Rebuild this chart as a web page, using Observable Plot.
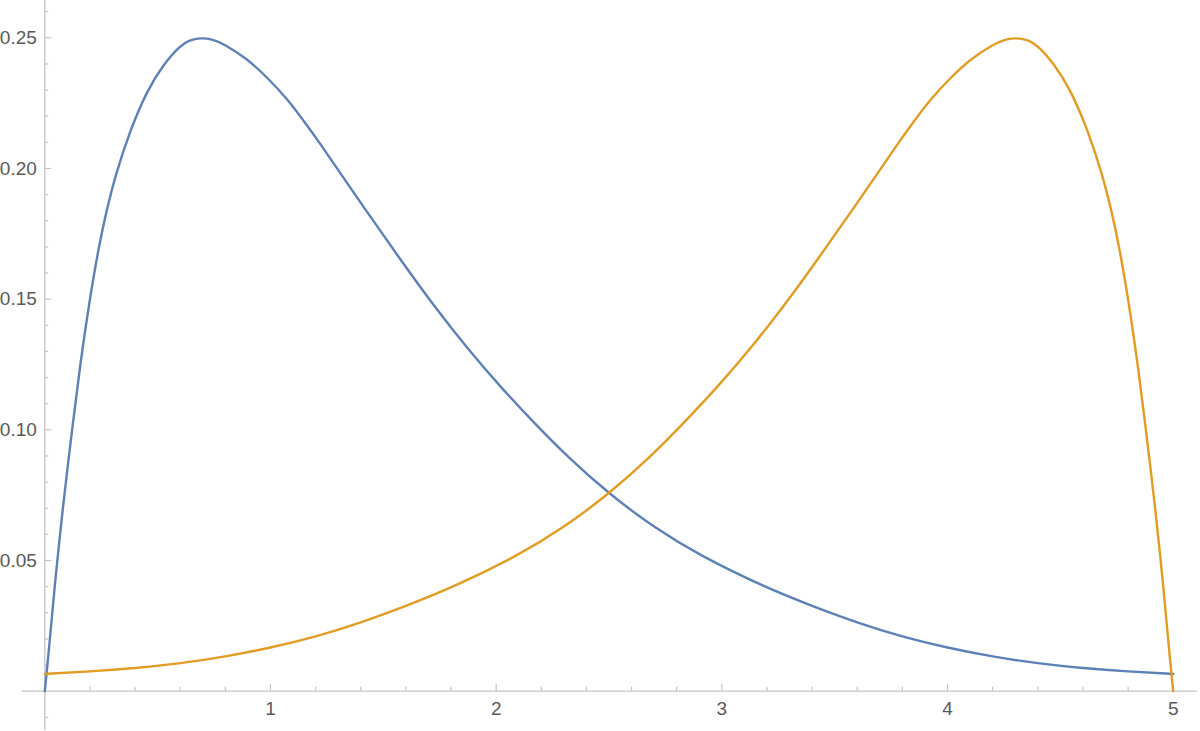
<!DOCTYPE html>
<html>
<head>
<meta charset="utf-8">
<script src="https://cdn.jsdelivr.net/npm/d3@7"></script>
<script src="https://cdn.jsdelivr.net/npm/@observablehq/plot@0.6"></script>
<style>
  html, body { margin: 0; padding: 0; background: #ffffff; }
  #chart svg { display: block; }
</style>
</head>
<body>
<div id="chart"></div>
<script>
// ---- data ----
const blueX = [0, 0.015, 0.03, 0.045, 0.06, 0.08, 0.10, 0.121, 0.155, 0.199, 0.239, 0.275, 0.313, 0.38, 0.453, 0.527, 0.601, 0.64, 0.69, 0.74, 0.793, 0.896, 0.985, 1.074, 1.162, 1.221, 1.281, 1.429, 1.576, 1.724, 1.872, 2.02, 2.167, 2.315, 2.5, 2.7, 2.9, 3.2, 3.4, 3.6, 3.8, 4.0, 4.2, 4.4, 4.6, 4.8, 5.0];
const blueY = [0, 0.013, 0.027, 0.041, 0.054, 0.070, 0.085, 0.100, 0.124, 0.150, 0.170, 0.1845, 0.1975, 0.2150, 0.2298, 0.240, 0.2471, 0.2491, 0.250, 0.2495, 0.2477, 0.2420, 0.2349, 0.2267, 0.2165, 0.2094, 0.2018, 0.1832, 0.1651, 0.1474, 0.1312, 0.1163, 0.1028, 0.0898, 0.0755, 0.0626, 0.0520, 0.0394, 0.0326, 0.0262, 0.0208, 0.0166, 0.0132, 0.0106, 0.0088, 0.0075, 0.0066];

const orangeX = [0, 0.2, 0.4, 0.6, 0.8, 1.0, 1.2, 1.4, 1.6, 1.8, 2.1, 2.3, 2.5, 2.685, 2.833, 2.98, 3.128, 3.276, 3.424, 3.571, 3.719, 3.779, 3.838, 3.926, 4.015, 4.104, 4.207, 4.26, 4.31, 4.36, 4.399, 4.473, 4.547, 4.62, 4.687, 4.725, 4.761, 4.801, 4.845, 4.879, 4.90, 4.92, 4.94, 4.955, 4.97, 4.985, 5.0];
const orangeY = [0.0066, 0.0075, 0.0088, 0.0106, 0.0132, 0.0166, 0.0208, 0.0262, 0.0326, 0.0394, 0.0520, 0.0626, 0.0755, 0.0898, 0.1028, 0.1163, 0.1312, 0.1474, 0.1651, 0.1832, 0.2018, 0.2094, 0.2165, 0.2267, 0.2349, 0.2420, 0.2477, 0.2495, 0.250, 0.2491, 0.2471, 0.240, 0.2298, 0.2150, 0.1975, 0.1845, 0.170, 0.150, 0.124, 0.100, 0.085, 0.070, 0.054, 0.041, 0.027, 0.013, 0];

const xMajorTicks = [1, 2, 3, 4, 5];
const xMinorTicks = [0.2, 0.4, 0.6, 0.8, 1.2, 1.4, 1.6, 1.8, 2.2, 2.4, 2.6, 2.8, 3.2, 3.4, 3.6, 3.8, 4.2, 4.4, 4.6, 4.8];
const yMajorTicks = [0.05, 0.10, 0.15, 0.20, 0.25];
const yMinorTicks = [-0.01, 0.01, 0.02, 0.03, 0.04, 0.06, 0.07, 0.08, 0.09, 0.11, 0.12, 0.13, 0.14, 0.16, 0.17, 0.18, 0.19, 0.21, 0.22, 0.23, 0.24, 0.26];

// axis line extents (data units)
const xAxisExtent = [-0.099, 5.107];
const yAxisExtent = [-0.015, 0.2643];

// ---- build ----
const blue = blueX.map((x, i) => ({x, y: blueY[i]}));
const orange = orangeX.map((x, i) => ({x, y: orangeY[i]}));

const W = 1200, H = 731;
const mL = 44.3, mR = 27.3, mT = 37.3, mB = 40.3;
const pxPerX = (W - mL - mR) / 5;
const pxPerY = (H - mT - mB) / 0.25;
const majorLen = 7, minorLen = 4;
const axisColor = "#c4c4c4";
const tickColor = "#c4c4c4";

const plot = Plot.plot({
  width: W,
  height: H,
  marginLeft: mL,
  marginRight: mR,
  marginTop: mT,
  marginBottom: mB,
  x: {domain: [0, 5], label: null},
  y: {domain: [0, 0.25], label: null},
  style: {
    fontFamily: "'Liberation Sans', Arial, sans-serif",
    fontSize: "19px",
    color: "#5a5a5a",
    background: "#ffffff"
  },
  marks: [
    Plot.ruleY([0], {x1: xAxisExtent[0], x2: xAxisExtent[1], stroke: axisColor, strokeWidth: 1.3}),
    Plot.ruleX([0], {y1: yAxisExtent[0], y2: yAxisExtent[1], stroke: axisColor, strokeWidth: 1.3}),
    Plot.ruleY(yMajorTicks, {y: d => d, x1: 0, x2: majorLen / pxPerX, stroke: tickColor, strokeWidth: 1.2}),
    Plot.ruleY(yMinorTicks, {y: d => d, x1: 0, x2: minorLen / pxPerX, stroke: tickColor, strokeWidth: 1.2}),
    Plot.ruleX(xMajorTicks, {x: d => d, y1: 0, y2: majorLen / pxPerY, stroke: tickColor, strokeWidth: 1.2}),
    Plot.ruleX(xMinorTicks, {x: d => d, y1: 0, y2: minorLen / pxPerY, stroke: tickColor, strokeWidth: 1.2}),
    Plot.axisY({ticks: yMajorTicks, tickSize: 0, tickPadding: 8, tickFormat: d3.format(".2f"), label: null}),
    Plot.axisX({ticks: xMajorTicks, tickSize: 0, tickPadding: 10, tickFormat: d => String(d), label: null}),
    Plot.line(blue, {x: "x", y: "y", stroke: "#5E81B5", strokeWidth: 2.4, curve: "basis"}),
    Plot.line(orange, {x: "x", y: "y", stroke: "#E19C24", strokeWidth: 2.4, curve: "basis"})
  ]
});

document.getElementById("chart").appendChild(plot);
</script>
</body>
</html>
